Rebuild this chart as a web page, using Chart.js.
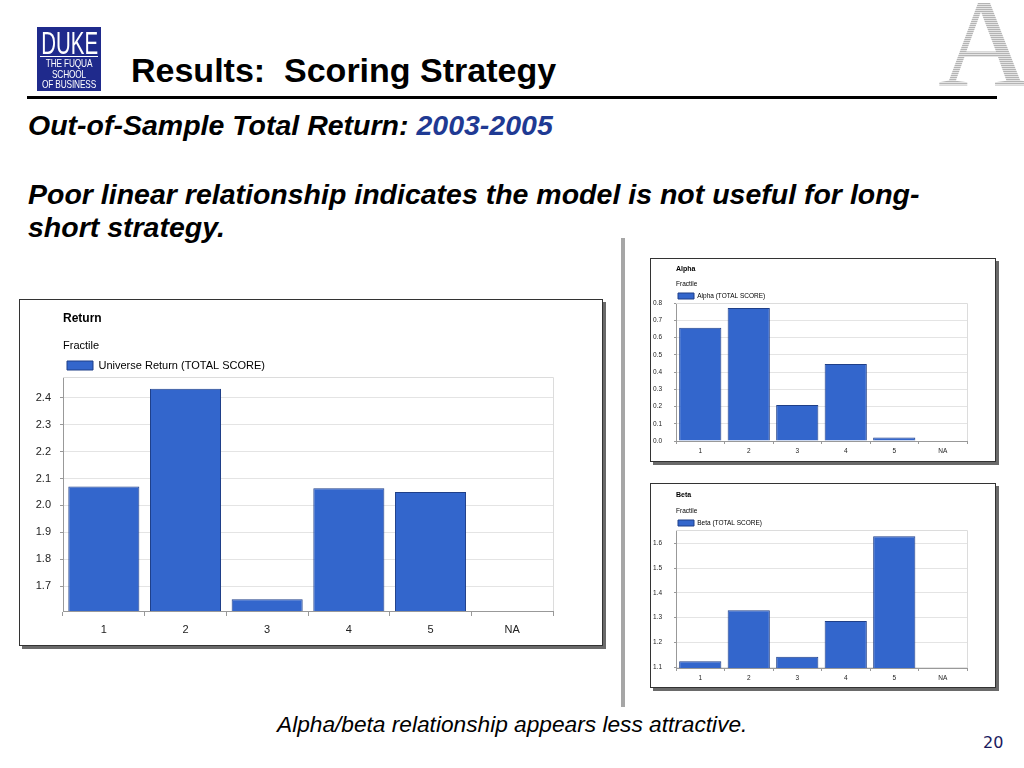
<!DOCTYPE html>
<html>
<head>
<meta charset="utf-8">
<script src="https://cdn.jsdelivr.net/npm/chart.js@4.4.0/dist/chart.umd.min.js"></script>
<style>
  body { margin: 0; width: 1024px; height: 768px; background: #fff; position: relative; overflow: hidden;
         font-family: "Liberation Sans", Arial, sans-serif; }
  .abs { position: absolute; white-space: pre; line-height: 1; }
  .panel { position: absolute; background: #fff; border: 1px solid #333; box-shadow: 3px 3px 0 #6a6a6a; }
  .panel canvas { display: block; }
  .bi { font-weight: bold; font-style: italic; font-size: 28.5px; color: #000; }
  #logo { position: absolute; left: 37px; top: 27px; width: 64px; height: 64px; background: #1f2a8c; color: #fff; overflow: hidden; }
  #logo .duke { position: absolute; left: -10px; width: 84px; top: 1px; text-align: center; font-size: 31px; line-height: 1;
                transform: scaleX(0.66); transform-origin: 50% 0; }
  #logo .rule { position: absolute; left: 3px; width: 58px; top: 29px; height: 1px; background: #fff; }
  #logo .sub { position: absolute; left: -20px; width: 104px; top: 31px; text-align: center; font-size: 11.5px; line-height: 10.7px;
               transform: scaleX(0.72); transform-origin: 50% 0; letter-spacing: -0.2px; }
  #bigA { position: absolute; left: 938px; top: -17px; font-family: "Liberation Serif", serif; font-size: 124px; line-height: 1;
          transform: scaleX(1.05); transform-origin: 0 0;
          background: repeating-linear-gradient(to bottom, #b4b4b4 0px, #b4b4b4 1px, #e4e4e4 1px, #e4e4e4 2px);
          -webkit-background-clip: text; background-clip: text; color: transparent; }
</style>
</head>
<body>

<div id="logo">
  <div class="duke">DUKE</div>
  <div class="rule"></div>
  <div class="sub">THE FUQUA<br>SCHOOL<br>OF BUSINESS</div>
</div>
<div id="bigA">A</div>

<div class="abs" style="left:131px; top:53px; font-size:34px; font-weight:bold; color:#000;">Results:  Scoring Strategy</div>
<div class="abs" style="left:27px; top:96px; width:970px; height:3px; background:#000;"></div>

<div class="abs bi" style="left:28px; top:111px;">Out-of-Sample Total Return: <span style="color:#1f3a93;">2003-2005</span></div>
<div class="abs bi" style="left:28px; top:180px;">Poor linear relationship indicates the model is not useful for long-</div>
<div class="abs bi" style="left:28px; top:213px;">short strategy.</div>

<div class="abs" style="left:621px; top:238px; width:4px; height:469px; background:#a6a6a6;"></div>

<div class="panel" style="left:19px; top:299px;"><canvas id="returnChart" width="582" height="345"></canvas></div>
<div class="panel" style="left:650px; top:258px;"><canvas id="alphaChart" width="344" height="202"></canvas></div>
<div class="panel" style="left:650px; top:483px;"><canvas id="betaChart" width="344" height="203"></canvas></div>

<div class="abs" style="left:277px; top:713px; font-size:22.7px; font-style:italic; color:#000;">Alpha/beta relationship appears less attractive.</div>
<div class="abs" style="left:983px; top:735px; font-size:16px; font-family:'DejaVu Sans', sans-serif; color:#1b1b5e;">20</div>

<script>
var fractiles = ['1', '2', '3', '4', '5', 'NA'];

var returnValues = [2.070, 2.433, 1.652, 2.064, 2.050, null];
var returnTicks = [1.7, 1.8, 1.9, 2.0, 2.1, 2.2, 2.3, 2.4];

var alphaValues = [0.656, 0.771, 0.209, 0.447, 0.020, null];
var alphaTicks = [0.0, 0.1, 0.2, 0.3, 0.4, 0.5, 0.6, 0.7, 0.8];

var betaValues = [1.123, 1.330, 1.142, 1.286, 1.630, null];
var betaTicks = [1.1, 1.2, 1.3, 1.4, 1.5, 1.6];

var FONT = '"Liberation Sans", Arial, sans-serif';

// light border on top and right of the plot area
var plotFrame = {
  id: 'plotFrame',
  beforeDatasetsDraw: function(chart) {
    var a = chart.chartArea, ctx = chart.ctx;
    ctx.save();
    ctx.strokeStyle = '#dcdcdc';
    ctx.lineWidth = 1;
    ctx.beginPath();
    ctx.moveTo(a.left, Math.round(a.top) + 0.5);
    ctx.lineTo(Math.round(a.right) + 0.5, Math.round(a.top) + 0.5);
    ctx.lineTo(Math.round(a.right) + 0.5, a.bottom);
    ctx.stroke();
    ctx.restore();
  }
};

function makeChart(id, title, label, values, ticks, min, max, s) {
  return new Chart(document.getElementById(id), {
    type: 'bar',
    data: {
      labels: fractiles,
      datasets: [{
        label: label,
        data: values,
        backgroundColor: '#3366cc',
        borderColor: '#1f3f88',
        borderWidth: 1,
        barPercentage: 0.87,
        categoryPercentage: 1
      }]
    },
    options: {
      responsive: false,
      animation: false,
      layout: { padding: { top: 0, left: 0, right: s.padRight, bottom: 0 } },
      plugins: {
        tooltip: { enabled: false },
        title: {
          display: true, text: title, align: 'start', fullSize: false, color: '#000',
          font: { family: FONT, size: s.titleSize, weight: 'bold' },
          padding: { top: s.titleTop, bottom: 0 }
        },
        subtitle: {
          display: true, text: 'Fractile', align: 'start', fullSize: false, color: '#000',
          font: { family: FONT, size: s.subSize },
          padding: { top: s.subTop, bottom: s.subBottom }
        },
        legend: {
          display: true, align: 'start', fullSize: false, maxHeight: s.legMax,
          labels: {
            boxWidth: s.boxW, boxHeight: s.boxH, padding: s.legPad, color: '#000',
            font: { family: FONT, size: s.subSize }
          }
        }
      },
      scales: {
        x: {
          afterFit: function(scale) { scale.height = s.xHeight; },
          grid: { offset: true, drawOnChartArea: false, tickLength: s.xTick, tickColor: '#999' },
          border: { color: '#999' },
          ticks: { color: '#222', padding: s.xPad, maxRotation: 0, autoSkip: false,
                   font: { family: FONT, size: s.tickSize } }
        },
        y: {
          min: min,
          max: max,
          afterBuildTicks: function(scale) {
            scale.ticks = ticks.map(function(v) { return { value: v }; });
          },
          afterFit: function(scale) { scale.width = s.yWidth; },
          grid: { color: '#e4e4e4', tickColor: '#999', tickLength: s.yTick },
          border: { color: '#999' },
          ticks: { color: '#222', padding: s.yPad, font: { family: FONT, size: s.tickSize },
                   callback: function(v) { return Number(v).toFixed(1); } }
        }
      }
    },
    plugins: [plotFrame]
  });
}

makeChart('returnChart', 'Return', 'Universe Return (TOTAL SCORE)', returnValues, returnTicks, 1.608, 2.477, {
  padRight: 49, titleSize: 12, titleTop: 11.8, subSize: 11, subTop: 13.2, subBottom: 3.4,
  legMax: 21, boxW: 26, boxH: 9, legPad: 4,
  xHeight: 34, xTick: 5, xPad: 7.5, yWidth: 43, yTick: 3, yPad: 9, tickSize: 11
});

makeChart('alphaChart', 'Alpha', 'Alpha (TOTAL SCORE)', alphaValues, alphaTicks, 0, 0.8, {
  padRight: 28, titleSize: 7, titleTop: 5.8, subSize: 6.5, subTop: 6.9, subBottom: 2.85,
  legMax: 12.25, boxW: 16, boxH: 6, legPad: 2,
  xHeight: 20, xTick: 3, xPad: 3.75, yWidth: 25, yTick: 2, yPad: 12, tickSize: 6.5
});

makeChart('betaChart', 'Beta', 'Beta (TOTAL SCORE)', betaValues, betaTicks, 1.096, 1.655, {
  padRight: 28, titleSize: 7, titleTop: 6.8, subSize: 6.5, subTop: 7.9, subBottom: 2.85,
  legMax: 12.25, boxW: 16, boxH: 6, legPad: 2,
  xHeight: 19, xTick: 3, xPad: 3.75, yWidth: 25, yTick: 2, yPad: 12, tickSize: 6.5
});
</script>
</body>
</html>
